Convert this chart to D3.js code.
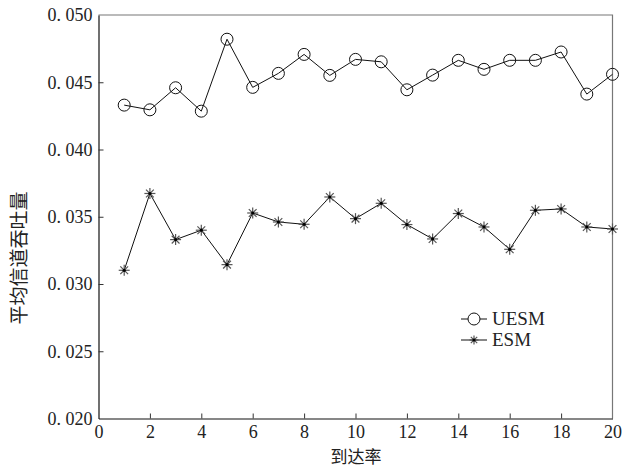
<!DOCTYPE html>
<html>
<head>
<meta charset="utf-8">
<script src="https://cdn.jsdelivr.net/npm/d3@7"></script>
<style>
  body { margin: 0; background: #fff; }
  svg .tick text { font-family: "Liberation Serif", serif !important; }
</style>
</head>
<body>
<div id="chart"></div>
<script>
const arrivalRate = [1, 2, 3, 4, 5, 6, 7, 8, 9, 10, 11, 12, 13, 14, 15, 16, 17, 18, 19, 20];
const uesm = [0.0433, 0.04295, 0.04459, 0.04285, 0.0482, 0.04462, 0.04566, 0.04707, 0.04551, 0.0467,
  0.04652, 0.04444, 0.04553, 0.04663, 0.04596, 0.04663, 0.04663, 0.04725, 0.04412, 0.04559];
const esm = [0.03102, 0.03673, 0.0333, 0.034, 0.03144, 0.03528, 0.03461, 0.03444, 0.03647, 0.03486,
  0.036, 0.03442, 0.03335, 0.03524, 0.03424, 0.03258, 0.03548, 0.03558, 0.03424, 0.03409];
const xTicks = [0, 2, 4, 6, 8, 10, 12, 14, 16, 18, 20];
const yTicks = [0.020, 0.025, 0.030, 0.035, 0.040, 0.045, 0.050];
const seriesNames = ["UESM", "ESM"];

const width = 632;
const height = 468;
const plotLeft = 98.5, plotRight = 612.5, plotTop = 15, plotBottom = 418.5;
const serif = "Liberation Serif";
const cjk = "Noto Sans CJK SC";

const svg = d3.select("#chart")
  .append("svg")
  .attr("width", width)
  .attr("height", height);

const x = d3.scaleLinear().domain([0, 20]).range([plotLeft, plotRight]);
const y = d3.scaleLinear().domain([0.02, 0.05]).range([plotBottom, plotTop]);

// frame: top and right in grey
svg.append("path")
  .attr("d", `M${plotLeft},${plotTop}H${plotRight}V${plotBottom}`)
  .attr("fill", "none")
  .attr("stroke", "#777")
  .attr("stroke-width", 1.2);

const xAxis = d3.axisBottom(x).tickValues(xTicks).tickSizeInner(-5).tickSizeOuter(0).tickPadding(7);
const gx = svg.append("g")
  .attr("transform", `translate(0,${plotBottom})`)
  .call(xAxis);

const yAxis = d3.axisLeft(y).tickValues(yTicks).tickSizeInner(-5).tickSizeOuter(0).tickPadding(6)
  .tickFormat(d => d3.format(".3f")(d).replace(".", ". "));
const gy = svg.append("g")
  .attr("transform", `translate(${plotLeft},0)`)
  .call(yAxis);

[gx, gy].forEach(g => {
  g.attr("font-family", serif).attr("font-size", 18);
  g.selectAll("text").attr("fill", "#222");
  g.select(".domain").attr("stroke", "#111").attr("stroke-width", 1.2);
  g.selectAll(".tick line").attr("stroke", "#333");
});
gx.selectAll(".tick").filter(d => d === 0 || d === 20).select("line").remove();
gy.selectAll(".tick").filter(d => d === 0.02 || d === 0.05).select("line").remove();

svg.append("text")
  .attr("x", 356)
  .attr("y", 463)
  .attr("text-anchor", "middle")
  .attr("font-family", cjk)
  .attr("font-size", 17)
  .attr("fill", "#222")
  .text("到达率");

svg.append("text")
  .attr("transform", "translate(26,258) rotate(-90)")
  .attr("text-anchor", "middle")
  .attr("font-family", cjk)
  .attr("font-size", 19)
  .attr("fill", "#222")
  .text("平均信道吞吐量");

const line = d3.line()
  .x((d, i) => x(arrivalRate[i]))
  .y(d => y(d));

svg.append("path")
  .datum(uesm)
  .attr("d", line)
  .attr("fill", "none")
  .attr("stroke", "#111")
  .attr("stroke-width", 1);

svg.append("path")
  .datum(esm)
  .attr("d", line)
  .attr("fill", "none")
  .attr("stroke", "#111")
  .attr("stroke-width", 1);

svg.selectAll(".uesm")
  .data(uesm)
  .enter()
  .append("circle")
  .attr("class", "uesm")
  .attr("cx", (d, i) => x(arrivalRate[i]))
  .attr("cy", d => y(d))
  .attr("r", 6)
  .attr("fill", "none")
  .attr("stroke", "#111")
  .attr("stroke-width", 1);

const star = (g, s) => {
  [0, 45, 90, 135].forEach(a => {
    g.append("line")
      .attr("x1", -s).attr("x2", s)
      .attr("y1", 0).attr("y2", 0)
      .attr("transform", `rotate(${a})`)
      .attr("stroke", "#555")
      .attr("stroke-width", 1.2);
  });
  g.append("circle").attr("r", 1.6).attr("fill", "#000");
};

svg.selectAll(".esm")
  .data(esm)
  .enter()
  .append("g")
  .attr("class", "esm")
  .attr("transform", (d, i) => `translate(${x(arrivalRate[i])},${y(d)})`)
  .each(function () { star(d3.select(this), 5.5); });

// legend
const legend = svg.append("g")
  .attr("transform", "translate(461,319)")
  .attr("font-family", serif)
  .attr("font-size", 19)
  .attr("fill", "#222");
legend.append("line").attr("x1", 0).attr("x2", 26).attr("stroke", "#111");
legend.append("circle").attr("cx", 13).attr("r", 6).attr("fill", "#fff").attr("stroke", "#111");
legend.append("text").attr("x", 31).attr("y", 6).text(seriesNames[0]);
const l2 = legend.append("g").attr("transform", "translate(0,21)");
l2.append("line").attr("x1", 0).attr("x2", 26).attr("stroke", "#111");
star(l2.append("g").attr("transform", "translate(13,0)"), 4.5);
l2.append("text").attr("x", 31).attr("y", 6).text(seriesNames[1]);
</script>
</body>
</html>
